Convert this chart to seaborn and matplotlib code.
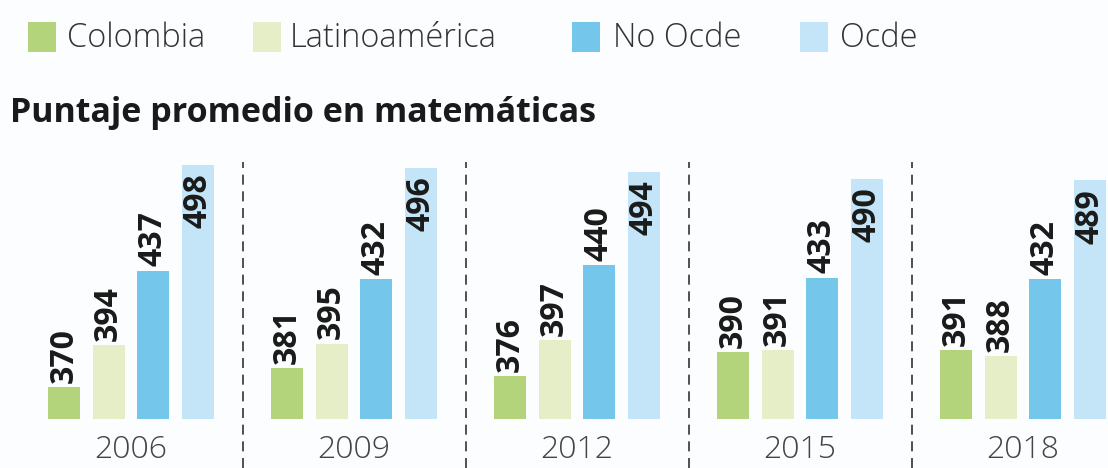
import matplotlib
matplotlib.use("Agg")
import matplotlib.pyplot as plt
from matplotlib.patches import Rectangle
import seaborn as sns
import pandas as pd

years = ["2006", "2009", "2012", "2015", "2018"]
regions = ["Colombia", "Latinoamérica", "No Ocde", "Ocde"]
colombia = [370, 381, 376, 390, 391]
latam = [394, 395, 397, 391, 388]
no_ocde = [437, 432, 440, 433, 432]
ocde = [498, 496, 494, 490, 489]
title = "Puntaje promedio en matemáticas"

colors = ["#b3d47a", "#e5eec7", "#74c6ea", "#c4e5f7"]
bg = "#fbfdfe"

rows = []
for reg, vals in zip(regions, [colombia, latam, no_ocde, ocde]):
    for y, v in zip(years, vals):
        rows.append({"year": y, "region": reg, "value": v})
df = pd.DataFrame(rows)

sns.set_theme(style="white")
plt.rcParams["font.family"] = ["Open Sans", "DejaVu Sans"]

fig = plt.figure(figsize=(11.08, 4.68), dpi=100)
fig.patch.set_facecolor(bg)
ax = fig.add_axes([0, 0.1047, 1, 0.5876])
ax.set_facecolor(bg)

sns.barplot(data=df, x="year", y="value", hue="region", hue_order=regions,
            order=years, palette=colors, width=0.8, gap=0.28, dodge=True,
            saturation=1, legend=False, ax=ax, linewidth=0)

ax.set_ylim(351.5, 510)
ax.set_xlim(-131 / 223, 4 + 85 / 223)
for s in ax.spines.values():
    s.set_visible(False)
ax.set_yticks([])
ax.set_xlabel("")
ax.set_ylabel("")
ax.set_xticks(range(len(years)))
ax.set_xticklabels(years, fontsize=23, color="#444444", fontweight="light")
ax.tick_params(axis="x", length=0, pad=11)

# value labels
for ci, cont in enumerate(ax.containers):
    for bar in cont:
        h = bar.get_height()
        xc = bar.get_x() + bar.get_width() / 2
        if ci == 3:
            ax.annotate(f"{int(round(h))}", (xc, h), xytext=(0, -6),
                        textcoords="offset points", rotation=90,
                        ha="center", va="top", fontsize=23,
                        fontweight="bold", color="#1a1a1a")
        else:
            ax.annotate(f"{int(round(h))}", (xc, h), xytext=(0, 3),
                        textcoords="offset points", rotation=90,
                        ha="center", va="bottom", fontsize=23,
                        fontweight="bold", color="#1a1a1a")

# dashed dividers
trans = ax.get_xaxis_transform()
for xv in [0.5, 1.5, 2.5, 3.5]:
    ax.plot([xv, xv], [-0.18, 0.934], transform=trans, clip_on=False,
            color="#333333", lw=1.2, linestyle=(0, (6, 4)))

# title
fig.text(10 / 1108, 1 - 113 / 468, title, fontsize=24.5, fontweight="bold",
         color="#1a1a1a", ha="left", va="center")

# legend
leg = [(28, 67), (253, 290), (572, 613), (800, 840)]
for (sx, tx), reg, col in zip(leg, regions, colors):
    fig.patches.append(Rectangle((sx / 1108, 1 - 52 / 468), 28 / 1108, 30 / 468,
                                 transform=fig.transFigure, facecolor=col,
                                 edgecolor="none"))
    fig.text(tx / 1108, 1 - 38 / 468, reg, fontsize=23.5, fontweight="light",
             color="#333333", ha="left", va="center")

fig.savefig("out.png", dpi=100, facecolor=bg)
